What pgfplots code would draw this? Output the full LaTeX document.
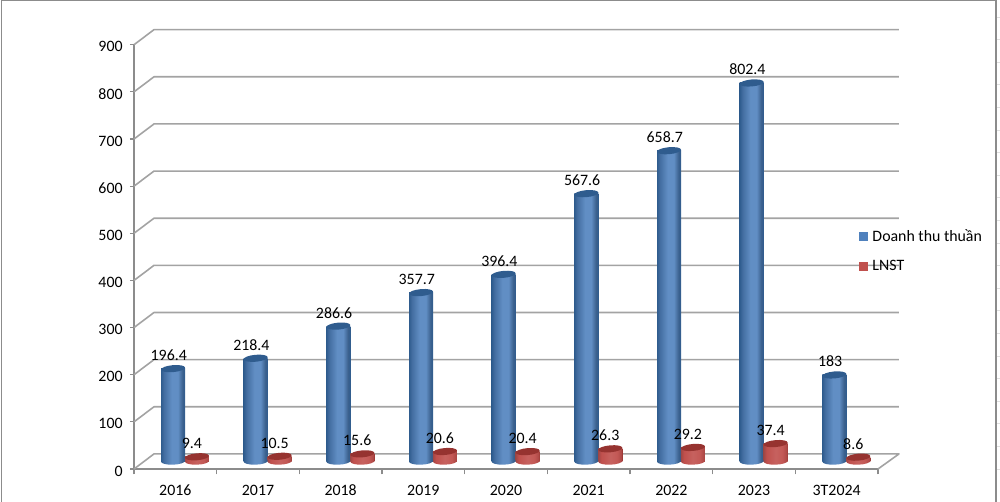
\documentclass[border=0pt]{standalone}
\usepackage{pgfplots}
\usepackage{pgfplotstable}
\usepackage{fontspec}
\pgfplotsset{compat=1.18}
\setmainfont{Carlito}
\definecolor{gridc}{HTML}{A3A3A3}
\definecolor{axisc}{HTML}{8C8C8C}
\definecolor{bluet}{HTML}{2F5C8E}
\definecolor{redt}{HTML}{963330}
\definecolor{blueleg}{HTML}{4F81BD}
\definecolor{redleg}{HTML}{C0504D}
% cylinder bodies, only 25bp-75bp is seen
\pgfdeclarehorizontalshading{bluecyl}{100bp}{color(0bp)=(bluet); color(25bp)=(bluet); color(31bp)=(blueleg!85!black); color(47bp)=(blueleg!90!white); color(60bp)=(blueleg!90!white); color(70bp)=(blueleg!75!black); color(75bp)=(bluet); color(100bp)=(bluet)}
\pgfdeclarehorizontalshading{redcyl}{100bp}{color(0bp)=(redt); color(25bp)=(redt!90!white); color(31bp)=(redleg); color(50bp)=(redleg!90!white); color(64bp)=(redleg!95!white); color(73bp)=(redleg!90!black); color(75bp)=(redt); color(100bp)=(redt)}
\pgfdeclareplotmark{bluebase}{\pgfpathellipse{\pgfpointorigin}{\pgfpoint{9pt}{0.3pt}}{\pgfpoint{0pt}{2.6pt}}\pgfshadepath{bluecyl}{0}\pgfusepath{discard}}
\pgfdeclareplotmark{redbase}{\pgfpathellipse{\pgfpointorigin}{\pgfpoint{9pt}{0.3pt}}{\pgfpoint{0pt}{2.6pt}}\pgfshadepath{redcyl}{0}\pgfusepath{discard}}
\pgfdeclareplotmark{captop}{\pgfpathellipse{\pgfpointorigin}{\pgfpoint{9pt}{0.8pt}}{\pgfpoint{-0.2pt}{2.6pt}}\pgfusepathqfill}

\pgfplotstableread{
i label dt lnst
0 2016 196.4 9.4
1 2017 218.4 10.5
2 2018 286.6 15.6
3 2019 357.7 20.6
4 2020 396.4 20.4
5 2021 567.6 26.3
6 2022 658.7 29.2
7 2023 802.4 37.4
8 3T2024 183 8.6
}\datatable

% back wall: front tick, depth offset, right end
\pgfplotstableread{
x y
0 0
0.242 32
9.254 32
9 0
nan nan
0 100
0.242 132
9.254 132
nan nan
0 200
0.242 232
9.254 232
nan nan
0 300
0.242 332
9.254 332
nan nan
0 400
0.242 432
9.254 432
nan nan
0 500
0.242 532
9.254 532
nan nan
0 600
0.242 632
9.254 632
nan nan
0 700
0.242 732
9.254 732
nan nan
0 800
0.242 832
9.254 832
nan nan
0 900
0.242 932
9.254 932
}\walltable

\newcommand{\lblfont}{\fontsize{11.9}{13}\selectfont}

\begin{document}
\begin{tikzpicture}[x=0.75pt,y=0.75pt]
\path[use as bounding box] (-134,-33) rectangle (866,469);
\begin{axis}[
    scale only axis, width=558pt, height=318.2pt,
    clip=false,
    xmin=0, xmax=9, ymin=0, ymax=900,
    axis lines=left,
    axis line style={-, axisc, line width=1.1pt},
    xtick={0.5,1.5,...,8.5},
    xticklabels={2016,2017,2018,2019,2020,2021,2022,2023,3T2024},
    minor xtick={0,1,...,9},
    major x tick style={draw=none},
    minor tick length=4pt,
    minor tick style={axisc, line width=0.8pt},
    ytick={0,100,...,900},
    major tick length=3pt,
    y tick style={axisc, line width=0.8pt},
    tick align=outside,
    x tick label style={font=\lblfont, text height=8pt, text depth=0pt, yshift=-5pt},
    y tick label style={font=\lblfont, xshift=-2pt, yshift=-1.5pt},
    /pgf/number format/assume math mode=true,
]
\addplot[gridc, line width=1.2pt, unbounded coords=jump, line join=round] table[x=x,y=y] {\walltable};
\end{axis}
\begin{axis}[
    scale only axis, width=558pt, height=318.2pt,
    clip=false, hide axis,
    xmin=-0.472, xmax=8.528, ymin=-16.5, ymax=883.5,
    legend style={at={(0.9745,0.5145)}, anchor=west, draw=none, fill=none,
        font=\lblfont, inner sep=0pt, row sep=12.5pt, column sep=3.5pt,
        nodes={inner sep=0pt}},
    legend cell align=left,
    legend image code/.code={\fill[#1] (0pt,-3pt) rectangle (6pt,3pt);},
    nodes near coords style={font=\lblfont, anchor=center, text height=8pt, text depth=0pt, black},
    /pgf/number format/fixed,
    /pgf/number format/precision=1,
    /pgf/number format/1000 sep={},
    /pgf/number format/assume math mode=true,
    bar width=18pt, bar shift=0pt,
]
\addlegendimage{blueleg}
\addlegendentry{Doanh thu thuần}
\addlegendimage{redleg}
\addlegendentry{LNST}
% one plot per bar, otherwise the shading runs across the whole row
\pgfplotsinvokeforeach{0,...,8}{
  \addplot[forget plot, only marks, mark=bluebase,
    skip coords between index={0}{#1}, skip coords between index={\numexpr#1+1\relax}{9}]
    table[x=i, y expr=0] {\datatable};
  \addplot[forget plot, ybar, draw=none, shade, shading=bluecyl,
    skip coords between index={0}{#1}, skip coords between index={\numexpr#1+1\relax}{9}]
    table[x=i,y=dt] {\datatable};
  \addplot[forget plot, only marks, mark=redbase,
    skip coords between index={0}{#1}, skip coords between index={\numexpr#1+1\relax}{9}]
    table[x expr=\thisrow{i}+0.29, y expr=0] {\datatable};
  \addplot[forget plot, ybar, draw=none, shade, shading=redcyl,
    skip coords between index={0}{#1}, skip coords between index={\numexpr#1+1\relax}{9}]
    table[x expr=\thisrow{i}+0.29,y=lnst] {\datatable};
}
% caps and value labels
\addplot[forget plot, only marks, mark=captop, mark options={fill=bluet, draw=none},
    point meta=y, nodes near coords,
    nodes near coords style={xshift=-3.2pt, yshift=10pt}] table[x=i,y=dt] {\datatable};
\addplot[forget plot, only marks, mark=captop, mark options={fill=redt, draw=none},
    point meta=y, nodes near coords,
    nodes near coords style={xshift=-3.8pt, yshift=10pt}] table[x expr=\thisrow{i}+0.29,y=lnst] {\datatable};
\end{axis}
% screenshot frame and the sheet's cell lines behind it
\foreach \yy in {0,22.6,...,460}
  \draw[black!12, line width=0.6pt] (863,\yy) -- (866,\yy);
\draw[axisc, line width=0.8pt] (-132.5,-33) -- (-132.5,468.6) -- (862,468.6) -- (862,-33);
\end{tikzpicture}
\end{document}
